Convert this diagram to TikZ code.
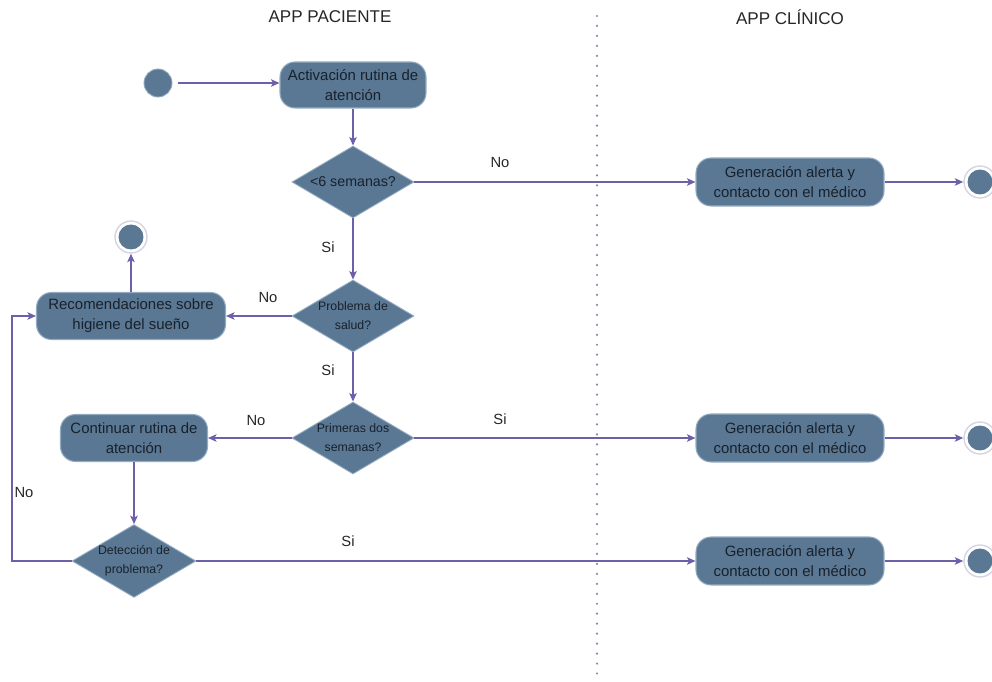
\documentclass[tikz,border=0pt]{standalone}
\usepackage{fontspec}
\setmainfont{Liberation Sans}
\usetikzlibrary{shapes.geometric,arrows.meta}
\definecolor{stateblue}{HTML}{5A7894}
\definecolor{stateedge}{HTML}{93ABC2}
\definecolor{flow}{HTML}{6E60A8}
\definecolor{ink}{HTML}{18212B}
\definecolor{lane}{HTML}{8C82B4}
\definecolor{ring}{HTML}{D6D4E2}

\begin{document}
\begin{tikzpicture}[x=0.02cm,y=-0.02cm,
  action/.style={rectangle, rounded corners=0.3cm, fill=stateblue, draw=stateedge,
    line width=0.6pt, text=ink, align=center, inner sep=0pt,
    font=\fontsize{8.5}{11.3}\selectfont},
  decision/.style={diamond, aspect=1.7, fill=stateblue, draw=stateedge, line width=0.5pt,
    text=ink, align=center, inner sep=0pt, minimum width=2.44cm,
    minimum height=1.44cm, font=\fontsize{7}{10.8}\selectfont},
  initial/.style={circle, fill=stateblue, draw=stateedge, line width=0.5pt,
    minimum size=0.56cm, inner sep=0pt},
  final/.style={circle, draw=ring, fill=white, line width=0.8pt,
    minimum size=0.64cm, inner sep=0pt,
    path picture={\fill[stateblue] (path picture bounding box.center) circle (0.25cm);}},
  flowline/.style={draw=flow, line width=0.8pt,
    -{Stealth[length=0.17cm,width=0.15cm,inset=0.04cm]}},
  guard/.style={text=black!85, font=\fontsize{8.4}{10}\selectfont, inner sep=0pt},
  lanetitle/.style={text=black!85, font=\fontsize{9.7}{11}\selectfont, inner sep=0pt}
]
\useasboundingbox (0,0) rectangle (992,682);
\clip (0,0) rectangle (992,682);

% swimlane titles and separator
\node[lanetitle] (tpac) at (330,17) {APP PACIENTE};
\node[lanetitle] (tcli) at (790,17) {APP CLÍNICO};
\draw[lane, line width=1.4pt, dash pattern=on 0pt off 5.67pt, line cap=round]
  (597,16) -- (597,682);

% patient lane
\node[initial] (start) at (158,83) {};
\node[action, minimum width=2.92cm, minimum height=0.92cm] (act) at (353,85)
  {Activación rutina de\\atención};
\node[decision, font=\fontsize{8.1}{10}\selectfont] (d1) at (353,182) {<6 semanas?};
\node[decision] (d2) at (353,316) {Problema de\\salud?};
\node[action, minimum width=3.78cm, minimum height=0.94cm] (recom) at (131,316)
  {Recomendaciones sobre\\higiene del sueño};
\node[final] (endr) at (131,237) {};
\node[decision] (d3) at (353,438) {Primeras dos\\semanas?};
\node[action, minimum width=2.94cm, minimum height=0.94cm] (cont) at (134,438)
  {Continuar rutina de\\atención};
\node[decision, minimum width=2.4cm] (d4) at (134,561) {Detección de\\problema?};
\coordinate (loop) at (12,561);

% clinician lane
\node[action, minimum width=3.76cm, minimum height=0.96cm] (g1) at (790,182)
  {Generación alerta y\\contacto con el médico};
\node[action, minimum width=3.76cm, minimum height=0.96cm] (g2) at (790,438)
  {Generación alerta y\\contacto con el médico};
\node[action, minimum width=3.76cm, minimum height=0.96cm] (g3) at (790,561)
  {Generación alerta y\\contacto con el médico};
\node[final] (e1) at (980,182) {};
\node[final] (e2) at (980,438) {};
\node[final] (e3) at (980,561) {};

% transitions
\draw[flowline, shorten <=0.12cm] (start.east) -- (act.west |- start.east);
\draw[flowline] (act) -- (d1);
\draw[flowline] (d1.east) -- (g1.west);
\draw[flowline] (g1) -- (e1);
\draw[flowline] (d1.south) -- (d2.north);
\draw[flowline] (d2.west) -- (recom.east);
\draw[flowline] (recom) -- (endr);
\draw[flowline] (d2.south) -- (d3.north);
\draw[flowline] (d3.west) -- (cont.east);
\draw[flowline] (d3.east) -- (g2.west);
\draw[flowline] (g2) -- (e2);
\draw[flowline] (cont) -- (d4.north);
\draw[flowline] (d4.east) -- (g3.west);
\draw[flowline] (g3) -- (e3);
\draw[flowline] (d4.west) -- (loop) |- (recom.west);

% guards
\node[guard] (l1) at (500,162) {No};
\node[guard] (l2) at (328,247) {Si};
\node[guard] (l3) at (268,297) {No};
\node[guard] (l4) at (328,370) {Si};
\node[guard] (l5) at (256,420) {No};
\node[guard] (l6) at (500,419) {Si};
\node[guard] (l7) at (24,492) {No};
\node[guard] (l8) at (348,541) {Si};
\end{tikzpicture}
\end{document}
